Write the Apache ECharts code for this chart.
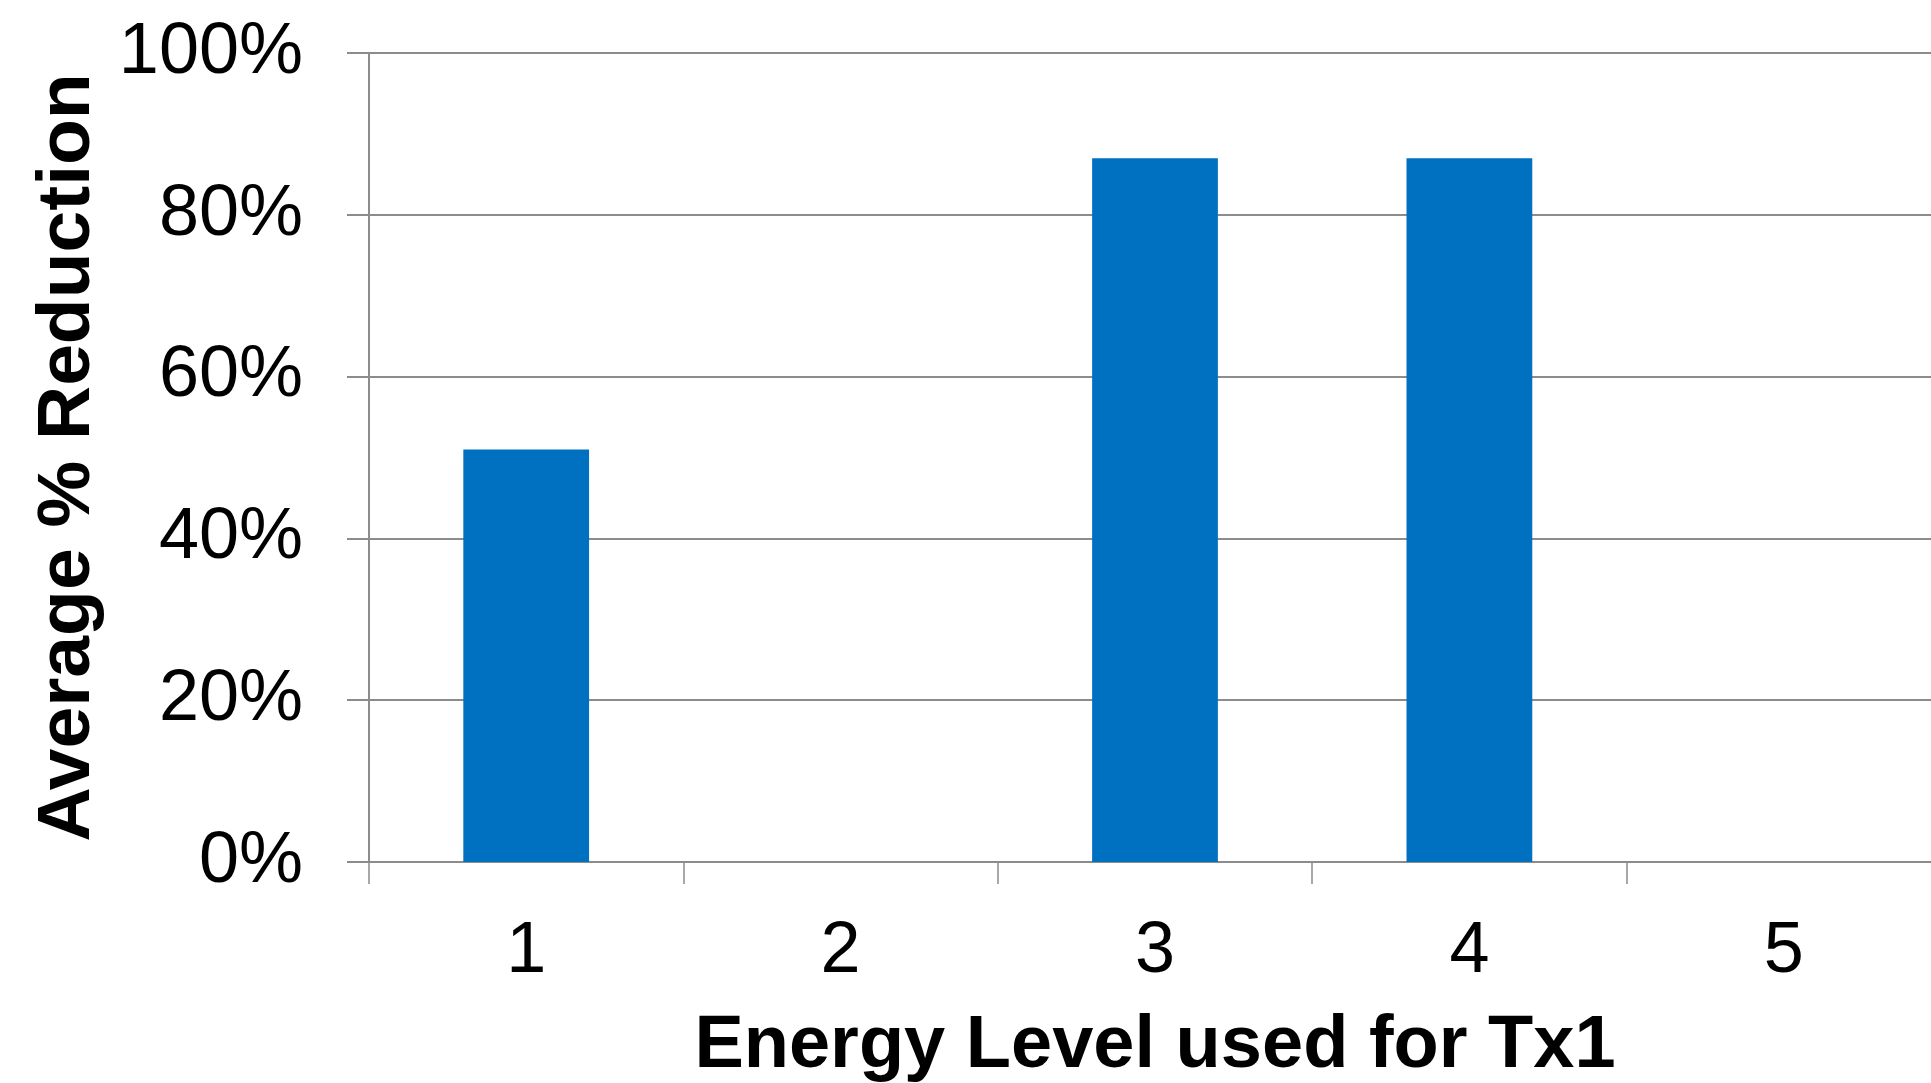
<!DOCTYPE html>
<html>
<head>
<meta charset="utf-8">
<script src="https://cdn.jsdelivr.net/npm/echarts@6/dist/echarts.min.js"></script>
<style>
  html, body { margin: 0; padding: 0; background: #ffffff; overflow: hidden; }
  #chart { width: 1931px; height: 1083px; }
</style>
</head>
<body>
<div id="chart"></div>
<script>
// Energy levels on the x axis and average reduction (percent) per level
const energyLevels = ['1', '2', '3', '4', '5'];
const avgReduction = [51, 0, 87, 87, 0];
const yTicks = { min: 0, max: 100, interval: 20 };

const axisGray = '#8c8c8c';
const font = '"Liberation Sans", Arial, sans-serif';

const chart = echarts.init(document.getElementById('chart'));
chart.setOption({
  animation: false,
  backgroundColor: '#ffffff',
  // plot area runs slightly past the right edge of the canvas; keep it fixed
  grid: {
    left: 369, top: 53, width: 1572, height: 809,
    containLabel: false,
    outerBoundsMode: 'none'
  },
  xAxis: {
    type: 'category',
    data: energyLevels,
    name: 'Energy Level used for Tx1',
    nameLocation: 'middle',
    nameGap: 148,
    nameTextStyle: { fontFamily: font, fontSize: 74, fontWeight: 'bold', color: '#000' },
    axisLine: { lineStyle: { color: axisGray, width: 2 } },
    axisTick: { show: true, length: 22, alignWithLabel: false, lineStyle: { color: axisGray, width: 1.5 } },
    axisLabel: { fontFamily: font, fontSize: 72, color: '#000', margin: 54 },
    splitLine: { show: false }
  },
  yAxis: {
    type: 'value',
    min: yTicks.min,
    max: yTicks.max,
    interval: yTicks.interval,
    name: 'Average % Reduction',
    nameLocation: 'middle',
    nameGap: 263,
    nameTextStyle: { fontFamily: font, fontSize: 75, fontWeight: 'bold', color: '#000' },
    axisLine: { show: true, lineStyle: { color: axisGray, width: 2 } },
    axisTick: { show: true, length: 22, lineStyle: { color: axisGray, width: 2 } },
    axisLabel: { fontFamily: font, fontSize: 72, color: '#000', margin: 66, formatter: '{value}%' },
    splitLine: { show: true, lineStyle: { color: axisGray, width: 2 } }
  },
  series: [{
    type: 'bar',
    data: avgReduction,
    barWidth: '40%',
    itemStyle: { color: '#0070C0' }
  }]
});
</script>
</body>
</html>
